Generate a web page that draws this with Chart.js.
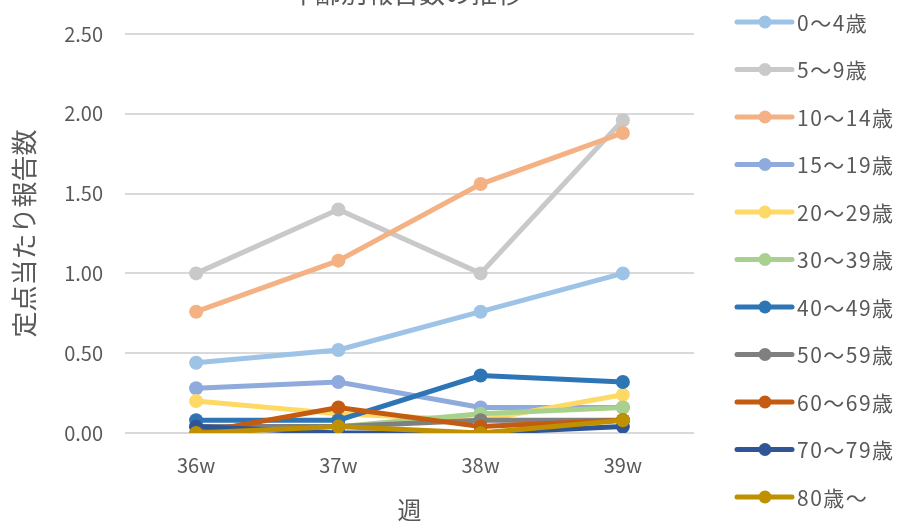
<!DOCTYPE html>
<html>
<head>
<meta charset="utf-8">
<script src="https://cdn.jsdelivr.net/npm/chart.js@4"></script>
<style>
  html, body { margin: 0; padding: 0; background: #fff; }
  #wrap { width: 906px; height: 524px; }
</style>
</head>
<body>
<div id="wrap"><canvas id="ageChart" width="906" height="524"></canvas></div>
<script>
const weeks = ['36w', '37w', '38w', '39w']
const ageGroups = ['0～4歳', '5～9歳', '10～14歳', '15～19歳', '20～29歳', '30～39歳', '40～49歳', '50～59歳', '60～69歳', '70～79歳', '80歳～']
const age0to4 = [0.44, 0.52, 0.76, 1.00]
const age5to9 = [1.00, 1.40, 1.00, 1.96]
const age10to14 = [0.76, 1.08, 1.56, 1.88]
const age15to19 = [0.28, 0.32, 0.16, 0.16]
const age20to29 = [0.20, 0.12, 0.08, 0.24]
const age30to39 = [0.04, 0.04, 0.12, 0.16]
const age40to49 = [0.08, 0.08, 0.36, 0.32]
const age50to59 = [0.04, 0.04, 0.08, 0.08]
const age60to69 = [0.00, 0.16, 0.04, 0.08]
const age70to79 = [0.04, 0.00, 0.00, 0.04]
const age80plus = [0.00, 0.04, 0.00, 0.08]
const yTicks = [0, 0.5, 1, 1.5, 2, 2.5]

const seriesValues = [age0to4, age5to9, age10to14, age15to19, age20to29, age30to39, age40to49, age50to59, age60to69, age70to79, age80plus]
const colors = ['#9dc3e6', '#c9c9c9', '#f4b183', '#8faadc', '#ffd966', '#a9d18e', '#2e75b6', '#7f7f7f', '#c55a11', '#2f5597', '#bf9000']

const jpFont = '"Noto Sans CJK JP", "Noto Sans", sans-serif'
const textColor = '#595959'

// Excel-like legend: line sample with a dot, one column on the right
const sideLegend = {
  id: 'sideLegend',
  afterDraw(chart) {
    const ctx = chart.ctx
    ctx.save()
    // title, cut off at the top edge in the original
    ctx.font = '26px ' + jpFont
    ctx.fillStyle = textColor
    ctx.textAlign = 'center'
    ctx.textBaseline = 'middle'
    ctx.fillText('年齢別報告数の推移', 406, -7)

    chart.data.datasets.forEach((ds, i) => {
      const y = 22 + i * 47.5
      ctx.strokeStyle = ds.borderColor
      ctx.lineWidth = 5
      ctx.lineCap = 'round'
      ctx.beginPath()
      ctx.moveTo(737, y)
      ctx.lineTo(792, y)
      ctx.stroke()
      ctx.fillStyle = ds.borderColor
      ctx.beginPath()
      ctx.arc(765, y, 6.5, 0, Math.PI * 2)
      ctx.fill()
      ctx.fillStyle = textColor
      ctx.font = '21px ' + jpFont
      ctx.letterSpacing = '1.5px'
      ctx.textAlign = 'left'
      ctx.textBaseline = 'middle'
      ctx.fillText(ds.label, 797, y + 1)
      ctx.letterSpacing = '0px'
    })
    ctx.restore()
  }
}

new Chart(document.getElementById('ageChart'), {
  type: 'line',
  data: {
    labels: weeks,
    datasets: ageGroups.map((name, i) => ({
      label: name,
      data: seriesValues[i],
      borderColor: colors[i],
      backgroundColor: colors[i],
      borderWidth: 5,
      pointRadius: 7,
      pointHoverRadius: 7,
      pointBorderWidth: 0,
      tension: 0,
      order: ageGroups.length - i
    }))
  },
  options: {
    responsive: false,
    animation: false,
    layout: { padding: { left: 0, right: 212, top: 32, bottom: 0 } },
    plugins: {
      legend: { display: false },
      title: { display: false },
      tooltip: { enabled: false }
    },
    scales: {
      x: {
        offset: true,
        grid: { display: false, drawTicks: false },
        border: { display: false },
        ticks: { color: textColor, font: { family: jpFont, size: 20 }, padding: 20 },
        title: { display: true, text: '週', color: textColor, font: { family: jpFont, size: 24 }, padding: { top: 0, bottom: 0 } },
        afterFit(scale) { scale.height = 91 }
      },
      y: {
        min: 0,
        max: 2.5,
        afterBuildTicks(scale) { scale.ticks = yTicks.map(v => ({ value: v })) },
        grid: { color: '#d9d9d9', lineWidth: 2, drawTicks: false },
        border: { display: false },
        ticks: {
          color: textColor,
          font: { family: jpFont, size: 20 },
          padding: 22,
          callback: v => v.toFixed(2)
        },
        title: { display: true, text: '定点当たり報告数', color: textColor, font: { family: jpFont, size: 26 }, padding: { top: 9, bottom: 0 } },
        afterFit(scale) { scale.width = 125 }
      }
    }
  },
  plugins: [sideLegend]
})
</script>
</body>
</html>
